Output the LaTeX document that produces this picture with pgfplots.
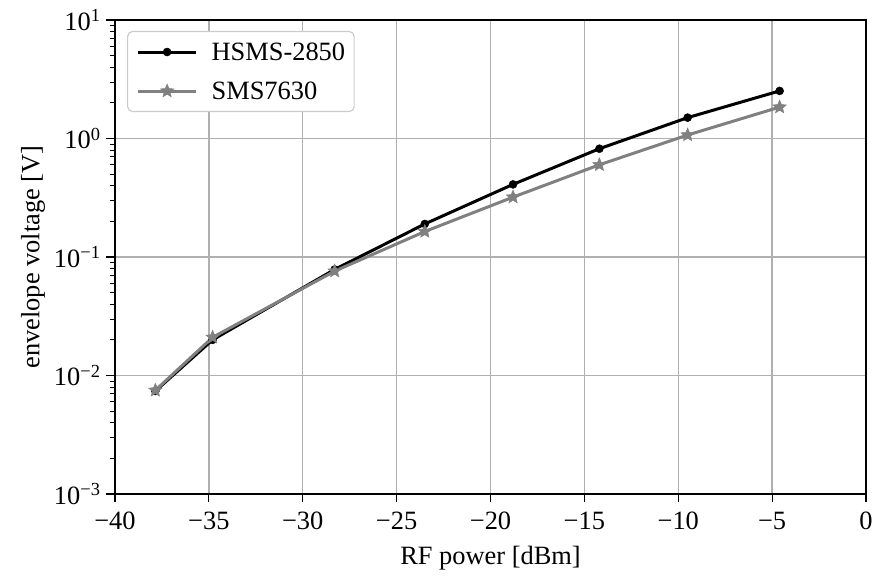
\documentclass[border=0pt]{standalone}
\usepackage{pgfplots}
\pgfplotsset{compat=1.18}
\usepackage{fontspec}
\setmainfont{Liberation Serif}
\definecolor{gridgray}{HTML}{B0B0B0}
\definecolor{sgray}{HTML}{808080}
\definecolor{legedge}{HTML}{CCCCCC}
\pgfdeclareplotmark{fstar}{%
  \pgfpathmoveto{\pgfpointpolar{90}{\pgfplotmarksize}}%
  \pgfpathlineto{\pgfpointpolar{126}{0.45\pgfplotmarksize}}%
  \pgfpathlineto{\pgfpointpolar{162}{\pgfplotmarksize}}%
  \pgfpathlineto{\pgfpointpolar{198}{0.45\pgfplotmarksize}}%
  \pgfpathlineto{\pgfpointpolar{234}{\pgfplotmarksize}}%
  \pgfpathlineto{\pgfpointpolar{270}{0.45\pgfplotmarksize}}%
  \pgfpathlineto{\pgfpointpolar{306}{\pgfplotmarksize}}%
  \pgfpathlineto{\pgfpointpolar{342}{0.45\pgfplotmarksize}}%
  \pgfpathlineto{\pgfpointpolar{18}{\pgfplotmarksize}}%
  \pgfpathlineto{\pgfpointpolar{54}{0.45\pgfplotmarksize}}%
  \pgfpathclose
  \pgfusepathqfillstroke
}
\newcommand{\fs}{\fontsize{26.5}{30}\selectfont}
\newcommand{\tp}[1]{10\raisebox{0.7ex}{\fontsize{18.5}{20}\selectfont #1}}
\begin{document}
\begin{tikzpicture}[x=1bp,y=1bp]
\begin{axis}[
  at={(0,0)}, anchor=south west,
  scale only axis, width=751bp, height=474bp,
  xmin=-40, xmax=0, ymin=1e-3, ymax=10, ymode=log,
  xtick={-40,-35,...,0},
  xticklabels={−40,−35,−30,−25,−20,−15,−10,−5,0},
  ytick={1e-3,1e-2,1e-1,1,10},
  yticklabels={\tp{−3},\tp{−2},\tp{−1},\tp{0},\tp{1}},
  grid=major, major grid style={gridgray, line width=1.3bp},
  tick align=outside, tick pos=left,
  major tick length=8.5bp, minor tick length=5bp,
  every tick/.style={black, line width=1.1bp},
  minor tick style={black, line width=0.8bp},
  axis line style={black, line width=1.1bp},
  tick label style={font=\fs},
  xticklabel style={yshift=-6bp},
  yticklabel style={xshift=-3bp},
  label style={font=\fs},
  xlabel={RF power [dBm]}, ylabel={envelope voltage [V]},
  xlabel style={yshift=-10bp},
  ylabel style={yshift=2bp},
  legend style={font=\fs, at={(0.016,0.977)}, anchor=north west,
    draw=legedge, rounded corners=5bp, fill=white, line width=1.2bp,
    inner xsep=7bp, inner ysep=9bp, row sep=16bp,
    nodes={inner sep=2bp}},
  legend cell align=left,
  legend image code/.code={\path (-2bp,0bp) (70bp,0bp);\draw[mark repeat=2,mark phase=2] plot coordinates {(0bp,0bp)(29bp,0bp)(58bp,0bp)};},
]
\addplot[black, line width=3bp, mark=*, mark size=4bp, mark options={solid, line width=0.5bp}]
coordinates {(-37.85,0.0074)(-34.8,0.020)(-28.3,0.0785)(-23.5,0.19)(-18.8,0.41)(-14.2,0.82)(-9.5,1.50)(-4.6,2.52)};
\addlegendentry{HSMS-2850}
\addplot[sgray, line width=3bp, mark=fstar, mark size=7bp, mark options={solid, line width=0.5bp}]
coordinates {(-37.85,0.0075)(-34.8,0.021)(-28.3,0.076)(-23.5,0.164)(-18.8,0.32)(-14.2,0.60)(-9.5,1.07)(-4.6,1.84)};
\addlegendentry{SMS7630}
\end{axis}
\pgfresetboundingbox
\useasboundingbox (-115,-84) rectangle (759,494);
\end{tikzpicture}
\end{document}
